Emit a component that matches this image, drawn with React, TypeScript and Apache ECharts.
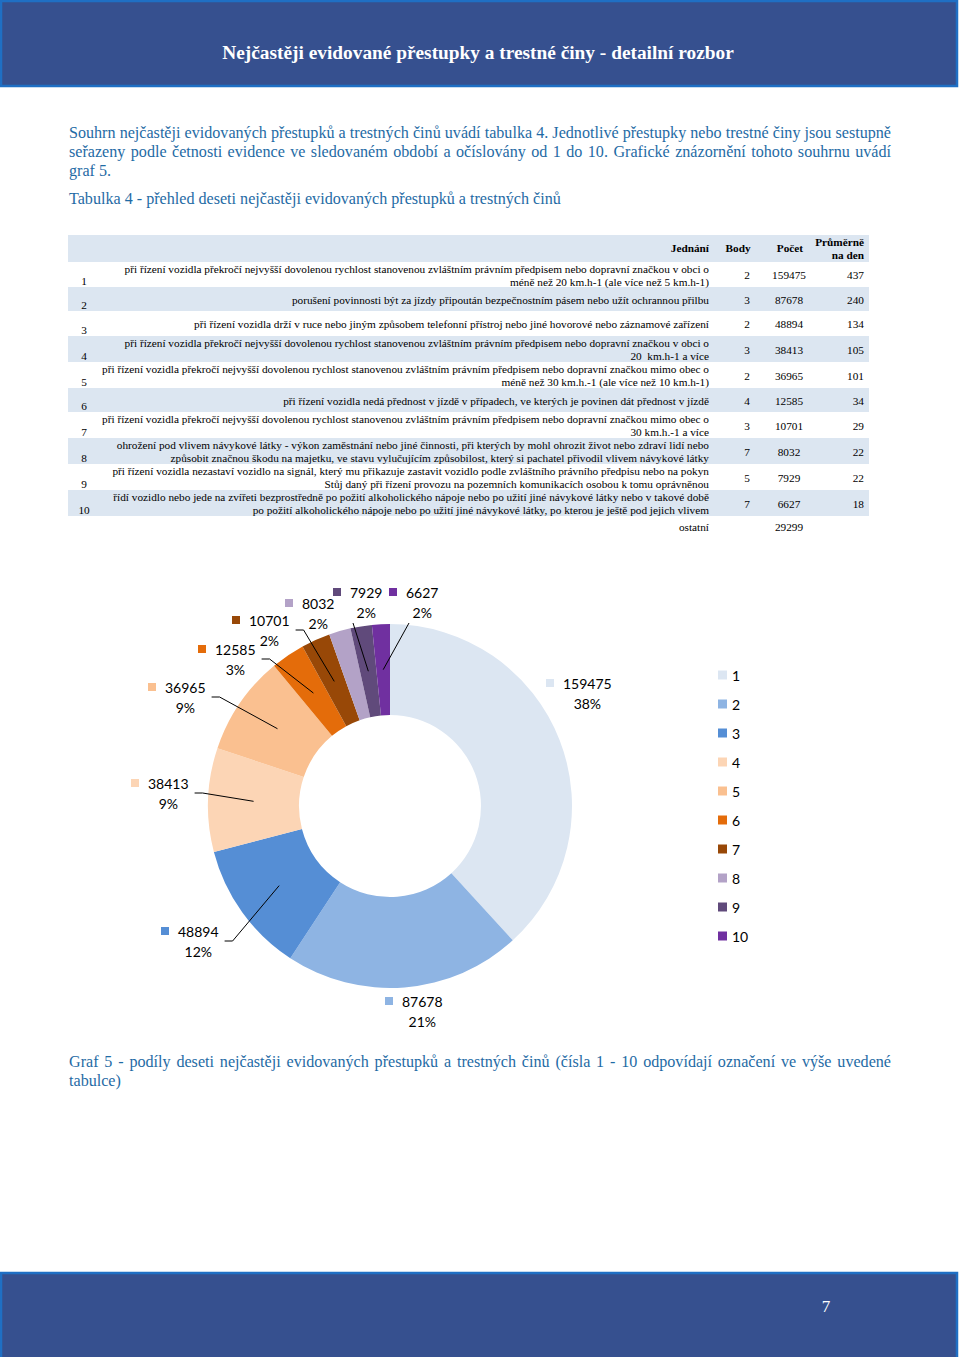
import React, { useEffect, useRef } from "react";
import * as echarts from "echarts";

// ---------------- DATA ----------------
const categories = ["1", "2", "3", "4", "5", "6", "7", "8", "9", "10"];
const counts = [159475, 87678, 48894, 38413, 36965, 12585, 10701, 8032, 7929, 6627];
const points = [2, 3, 2, 3, 2, 4, 3, 7, 5, 7];
const perDay = [437, 240, 134, 105, 101, 34, 29, 22, 22, 18];
const otherLabel = "ostatní";
const otherCount = 29299;
const descriptions = [
  "při řízení vozidla překročí nejvyšší dovolenou rychlost stanovenou zvláštním právním předpisem nebo dopravní značkou v obci o\nméně než 20 km.h-1 (ale více než 5 km.h-1)",
  "porušení povinnosti být za jízdy připoután bezpečnostním pásem nebo užít ochrannou přilbu",
  "při řízení vozidla drží v ruce nebo jiným způsobem telefonní přístroj nebo jiné hovorové nebo záznamové zařízení",
  "při řízení vozidla překročí nejvyšší dovolenou rychlost stanovenou zvláštním právním předpisem nebo dopravní značkou v obci o\n20  km.h-1 a více",
  "při řízení vozidla překročí nejvyšší dovolenou rychlost stanovenou zvláštním právním předpisem nebo dopravní značkou mimo obec o\nméně než 30 km.h.-1 (ale více než 10 km.h-1)",
  "při řízení vozidla nedá přednost v jízdě v případech, ve kterých je povinen dát přednost v jízdě",
  "při řízení vozidla překročí nejvyšší dovolenou rychlost stanovenou zvláštním právním předpisem nebo dopravní značkou mimo obec o\n30 km.h.-1 a více",
  "ohrožení pod vlivem návykové látky - výkon zaměstnání nebo jiné činnosti, při kterých by mohl ohrozit život nebo zdraví lidí nebo\nzpůsobit značnou škodu na majetku, ve stavu vylučujícím způsobilost, který si pachatel přivodil vlivem návykové látky",
  "při řízení vozidla nezastaví vozidlo na signál, který mu přikazuje zastavit vozidlo podle zvláštního právního předpisu nebo na pokyn\nStůj daný při řízení provozu na pozemních komunikacích osobou k tomu oprávněnou",
  "řídí vozidlo nebo jede na zvířeti bezprostředně po požití alkoholického nápoje nebo po užití jiné návykové látky nebo v takové době\npo požití alkoholického nápoje nebo po užití jiné návykové látky, po kterou je ještě pod jejich vlivem",
];
const tableHeaders = ["Jednání", "Body", "Počet", "Průměrně\nna den"];

const pageTitle = "Nejčastěji evidované přestupky a trestné činy - detailní rozbor";
const introLines = [
  "Souhrn nejčastěji evidovaných přestupků a trestných činů uvádí tabulka 4. Jednotlivé přestupky nebo trestné činy jsou sestupně",
  "seřazeny podle četnosti evidence ve sledovaném období a očíslovány od 1 do 10. Grafické znázornění tohoto souhrnu uvádí",
  "graf 5.",
];
const tableCaption = "Tabulka 4 - přehled deseti nejčastěji evidovaných přestupků a trestných činů";
const chartCaptionLines = [
  "Graf 5 - podíly deseti nejčastěji evidovaných přestupků a trestných činů (čísla 1 - 10 odpovídají označení ve výše uvedené",
  "tabulce)",
];
const pageNumber = "7";

// ---------------- STYLE / LAYOUT ----------------
const colors = ["#DCE6F2", "#8EB4E3", "#558ED5", "#FCD5B5", "#FAC090", "#E46C0A", "#984807", "#B3A2C7", "#604A7B", "#7030A0"];
const BAR = "#36508F";
const BAR_EDGE = "#1F6FC4";
const TEXT_BLUE = "#1F6BA5";
const BAND = "#DCE6F1";
const SERIF = "'Liberation Serif', 'Times New Roman', serif";
const SANS = "Lato, 'Noto Sans', sans-serif";

const PIE_C = [390, 806];
const PIE_R = [91, 182];
// label block top-left positions (square left edge, top of first line)
const labelAnchors: [number, number][] = [
  [546, 673], [385, 991], [161, 921], [131, 773], [148, 677],
  [198, 639], [232, 610], [285, 593], [333, 582], [389, 582],
];
const leaderKind = ["none", "none", "side", "side", "side", "side", "side", "none", "below", "below"];
const LABEL_LINE_H = 20;
const SQ = 8;
const SQ_GAP = 9;

const rowTops = [262, 287, 311, 336, 362, 388, 412, 438, 464, 490, 516];
const TABLE_X0 = 68;
const TABLE_X1 = 869;

// ---------------- helpers ----------------
const ctx = document.createElement("canvas").getContext("2d")!;
function measure(text: string, size: number, weight = "normal", family = SERIF) {
  ctx.font = `${weight} ${size}px ${family}`;
  return ctx.measureText(text).width;
}
function fitSize(text: string, width: number, weight = "normal") {
  return (20 * width) / measure(text, 20, weight);
}

function txt(text: string, x: number, y: number, o: any = {}) {
  return {
    type: "text",
    x,
    y,
    silent: true,
    style: {
      text,
      fill: o.fill || "#000",
      fontSize: o.size || 11,
      fontFamily: o.family || SERIF,
      fontWeight: o.weight || "normal",
      align: o.align || "left",
      verticalAlign: "middle",
      lineHeight: o.lineHeight,
    },
  };
}

function justified(line: string, x0: number, x1: number, y: number, size: number, fill: string, justify: boolean) {
  if (!justify) return [txt(line, x0, y, { size, fill })];
  const words = line.split(" ");
  const ws = words.map((w) => measure(w, size));
  const sum = ws.reduce((a, b) => a + b, 0);
  const gap = (x1 - x0 - sum) / (words.length - 1);
  let x = x0;
  return words.map((w, i) => {
    const el = txt(w, x, y, { size, fill });
    x += ws[i] + gap;
    return el;
  });
}

function buildOption() {
  const g: any[] = [];
  // header & footer bars
  g.push({ type: "rect", silent: true, shape: { x: 1, y: 1, width: 956, height: 85 }, style: { fill: BAR, stroke: BAR_EDGE, lineWidth: 2.5 } });
  g.push({ type: "rect", silent: true, shape: { x: 1, y: 1273, width: 956, height: 86 }, style: { fill: BAR, stroke: BAR_EDGE, lineWidth: 2.5 } });
  const titleSize = fitSize(pageTitle, 512, "bold");
  g.push(txt(pageTitle, 478, 52, { size: titleSize, weight: "bold", fill: "#fff", align: "center" }));
  g.push(txt(pageNumber, 826, 1306, { size: 17, fill: "#fff", align: "center" }));

  // paragraphs
  const pSize = fitSize(tableCaption, 492);
  introLines.forEach((l, i) => g.push(...justified(l, 69, 891, 132 + i * 19, pSize, TEXT_BLUE, i < introLines.length - 1)));
  g.push(txt(tableCaption, 69, 198, { size: pSize, fill: TEXT_BLUE }));
  chartCaptionLines.forEach((l, i) => g.push(...justified(l, 69, 891, 1061 + i * 19, pSize, TEXT_BLUE, i < chartCaptionLines.length - 1)));

  // table
  const tSize = fitSize(descriptions[0].split("\n")[0], 585);
  g.push({ type: "rect", silent: true, shape: { x: TABLE_X0, y: 235, width: TABLE_X1 - TABLE_X0, height: 27 }, style: { fill: BAND } });
  for (let i = 0; i < descriptions.length; i++) {
    if (i % 2 === 1) {
      g.push({ type: "rect", silent: true, shape: { x: TABLE_X0, y: rowTops[i], width: TABLE_X1 - TABLE_X0, height: rowTops[i + 1] - rowTops[i] }, style: { fill: BAND } });
    }
  }
  g.push(txt(tableHeaders[0], 709, 248, { size: tSize, weight: "bold", align: "right" }));
  g.push(txt(tableHeaders[1], 738, 248, { size: tSize, weight: "bold", align: "center" }));
  g.push(txt(tableHeaders[2], 790, 248, { size: tSize, weight: "bold", align: "center" }));
  g.push(txt(tableHeaders[3], 864, 248.5, { size: tSize, weight: "bold", align: "right", lineHeight: 13 }));
  for (let i = 0; i < descriptions.length; i++) {
    const top = rowTops[i];
    const bot = rowTops[i + 1];
    const mid = (top + bot) / 2 + 0.5;
    g.push(txt(categories[i], 84, bot - 6, { size: tSize, align: "center" }));
    g.push(txt(descriptions[i], 709, mid, { size: tSize, align: "right", lineHeight: 13 }));
    g.push(txt(String(points[i]), 747, mid, { size: tSize, align: "center" }));
    g.push(txt(String(counts[i]), 789, mid, { size: tSize, align: "center" }));
    g.push(txt(String(perDay[i]), 864, mid, { size: tSize, align: "right" }));
  }
  g.push(txt(otherLabel, 709, 527, { size: tSize, align: "right" }));
  g.push(txt(String(otherCount), 789, 527, { size: tSize, align: "center" }));

  // leader lines: from the label block to the middle of the ring at the slice's mid angle
  const total = counts.reduce((a, b) => a + b, 0);
  const cum: number[] = [];
  counts.reduce((acc, v, i) => ((cum[i] = acc), acc + v), 0);
  const midPoint = (i: number) => {
    const a = (2 * Math.PI * (cum[i] + counts[i] / 2)) / total;
    const r = (PIE_R[0] + PIE_R[1]) / 2;
    return [PIE_C[0] + r * Math.sin(a), PIE_C[1] - r * Math.cos(a)];
  };
  counts.forEach((v, i) => {
    const [ax, ay] = labelAnchors[i];
    const end = midPoint(i);
    let pts: number[][] | null = null;
    if (leaderKind[i] === "side") {
      const w = SQ + SQ_GAP + measure(String(v), 14, "normal", SANS);
      const s = [ax + w + 6, ay + LABEL_LINE_H];
      pts = [s, [s[0] + 8, s[1]], end];
    } else if (leaderKind[i] === "below") {
      pts = [[ax + 20, ay + 2 * LABEL_LINE_H + 1], end];
    }
    if (pts) {
      g.push({ type: "polyline", silent: true, z: 100, shape: { points: pts }, style: { stroke: "#000", lineWidth: 1, fill: null } });
    }
  });

  const rich: any = {
    sp: { width: SQ_GAP, align: "left" },
    v: { fontSize: 14, fontFamily: SANS, color: "#000", lineHeight: LABEL_LINE_H, align: "left" },
    gap: { width: SQ + SQ_GAP, align: "left" },
    p: { fontSize: 14, fontFamily: SANS, color: "#000", lineHeight: LABEL_LINE_H, align: "center" },
  };
  colors.forEach((c, i) => (rich["sq" + i] = { width: SQ, height: SQ, backgroundColor: c, align: "left" }));

  return {
    animation: false,
    backgroundColor: "#fff",
    graphic: { elements: g },
    legend: {
      orient: "vertical",
      left: 718,
      top: 668,
      padding: 0,
      itemWidth: 9,
      itemHeight: 9,
      itemGap: 15,
      icon: "rect",
      selectedMode: false,
      textStyle: { fontFamily: SANS, fontSize: 14, color: "#000", lineHeight: 14 },
      data: categories,
    },
    series: [
      {
        type: "pie",
        center: PIE_C,
        radius: PIE_R,
        startAngle: 90,
        clockwise: true,
        avoidLabelOverlap: false,
        percentPrecision: 0,
        emphasis: { scale: false },
        itemStyle: { borderWidth: 0 },
        data: categories.map((c, i) => ({
          name: c,
          value: counts[i],
          itemStyle: { color: colors[i] },
        })),
        label: {
          show: true,
          position: "outside",
          fontFamily: SANS,
          fontSize: 14,
          color: "#000",
          lineHeight: LABEL_LINE_H,
          formatter: (p: any) => `{sq${p.dataIndex}|}{sp|}{v|${p.value}}\n{gap|}{p|${p.percent}%}`,
          rich,
        },
        labelLine: { show: false },
        labelLayout: (params: any) => {
          const [ax, ay] = labelAnchors[params.dataIndex];
          return { x: ax, y: ay, align: "left", verticalAlign: "top" };
        },
      },
    ],
  };
}

export default function App() {
  const ref = useRef<HTMLDivElement>(null);
  useEffect(() => {
    document.body.style.margin = "0";
    const chart = echarts.init(ref.current!, null, { renderer: "svg" });
    chart.setOption(buildOption() as any);
    return () => chart.dispose();
  }, []);
  return <div ref={ref} style={{ position: "absolute", left: 0, top: 0, width: 960, height: 1357 }} />;
}
